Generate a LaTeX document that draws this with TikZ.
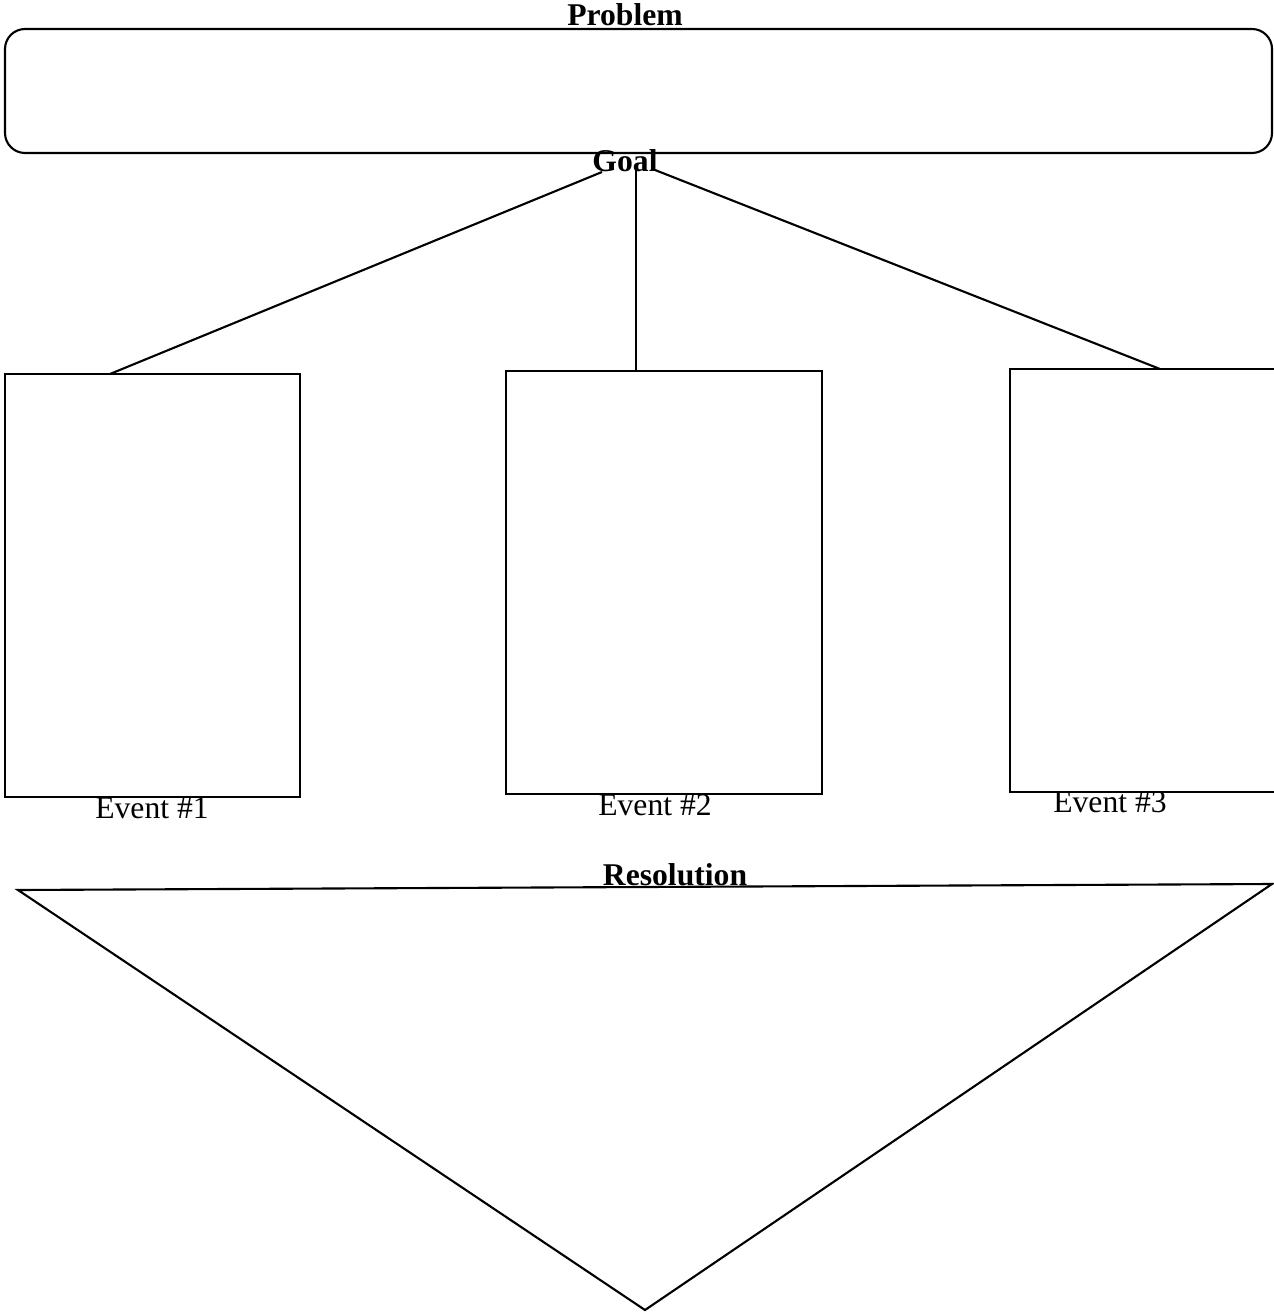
\documentclass[tikz,border=0pt]{standalone}
\usepackage{fontspec}
\setmainfont{Liberation Serif}
\begin{document}
\begin{tikzpicture}[x=0.01cm,y=-0.01cm,line width=0.6pt,
  lbl/.style={inner sep=0pt,anchor=base,font=\fontsize{9}{11}\selectfont},
  head/.style={lbl,font=\fontsize{9}{11}\selectfont\bfseries},
  evbox/.style={draw,minimum height=4.23cm,inner sep=0pt}]
    \useasboundingbox (0,0) rectangle (1274,1313);
    \draw[rounded corners=0.2cm](5,29) rectangle (1272,153);
    \node[head] (problem) at (625,26) {Problem};
    \node[head] (goal) at (625,172) {Goal};
    \node[evbox,minimum width=2.95cm] (ev1) at (152.5,585.5) {};
    \node[evbox,minimum width=3.16cm] (ev2) at (664,582.5) {};
    \node[evbox,minimum width=2.90cm] (ev3) at (1155,580.5) {};
    \coordinate (gl) at (602,172);
    \coordinate (gm) at (636,170);
    \coordinate (gr) at (655,170);
    \coordinate (t1) at (110,374);
    \coordinate (t2) at (636,371);
    \coordinate (t3) at (1160,369);
    \draw(gl)--(t1);
    \draw(gm)--(t2);
    \draw(gr)--(t3);
    \node[lbl] (e1) at (152,818) {Event \#1};
    \node[lbl] (e2) at (655,815) {Event \#2};
    \node[lbl] (e3) at (1110,812) {Event \#3};
    \draw(18,890)--(1272,884)--(645,1310)--cycle;
    \node[head] (resolution) at (675,885) {Resolution};
\end{tikzpicture}
\end{document}
